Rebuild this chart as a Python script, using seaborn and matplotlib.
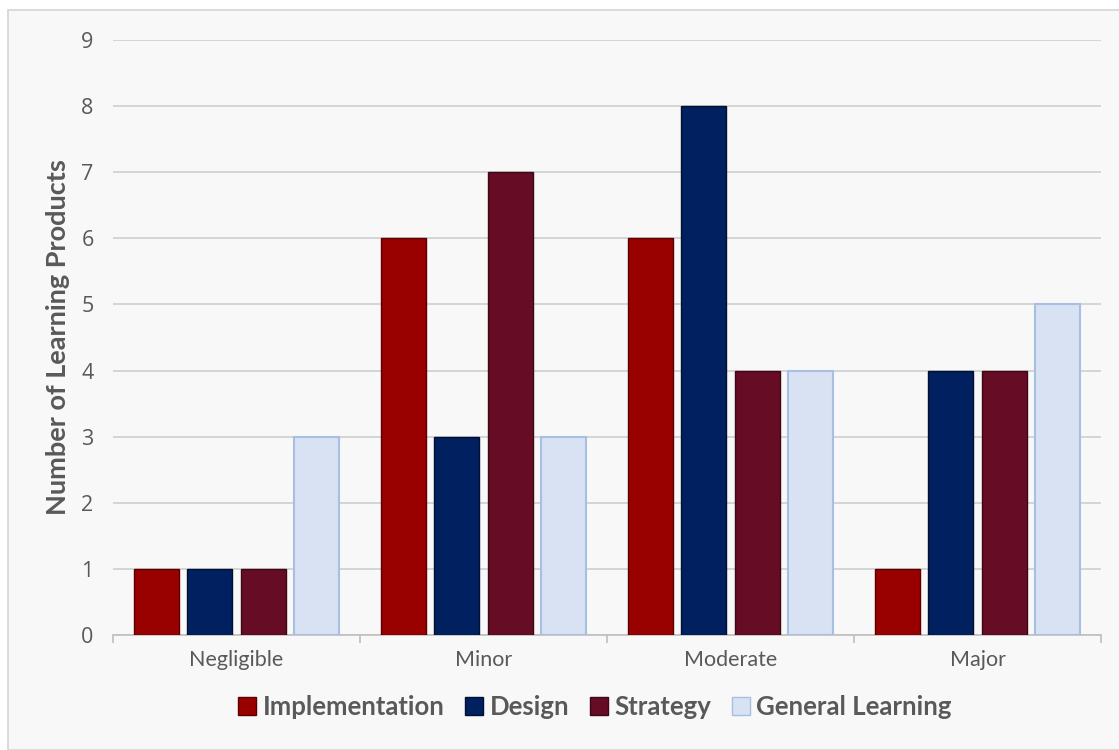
import matplotlib
matplotlib.use("Agg")
import matplotlib.pyplot as plt
from matplotlib.patches import Rectangle
import seaborn as sns
import pandas as pd

categories = ["Negligible", "Minor", "Moderate", "Major"]
series_names = ["Implementation", "Design", "Strategy", "General Learning"]
implementation = [1, 6, 6, 1]
design = [1, 3, 8, 4]
strategy = [1, 7, 4, 4]
general_learning = [3, 3, 4, 5]
y_ticks = list(range(0, 10))

colors = ["#990000", "#002060", "#660c24", "#d9e2f3"]
edges = ["#5a0000", "#001030", "#3d0714", "#a6bfe3"]

rows = []
for name, vals in zip(series_names, [implementation, design, strategy, general_learning]):
    for c, v in zip(categories, vals):
        rows.append({"Effect": c, "Series": name, "Count": v})
df = pd.DataFrame(rows)

sns.set_theme(style="white")
plt.rcParams["font.family"] = ["Lato", "DejaVu Sans"]

fig = plt.figure(figsize=(11.19, 7.5), dpi=100)
fig.patch.set_facecolor("white")
fig.patches.append(Rectangle((8/1119, 0), 1 - 8/1119 + 0.01, (750-10)/750, transform=fig.transFigure,
                             facecolor="#f8f8f8", edgecolor="#d4d4d4", linewidth=1.2, zorder=-10))

ax = fig.add_axes([113/1119, (750-635)/750, (1101-113)/1119, (635-40)/750])
ax.set_facecolor("#f8f8f8")

sns.barplot(data=df, x="Effect", y="Count", hue="Series", order=categories,
            hue_order=series_names, palette=colors, saturation=1, width=0.868, gap=0.16,
            ax=ax, legend=False, zorder=3)

n = len(categories)
for i, p in enumerate(ax.patches[: n * len(series_names)]):
    s = i // n
    p.set_edgecolor(edges[s])
    p.set_linewidth(1.5 if s == 3 else 1.0)

ax.set_ylim(0, 9)
ax.set_xlim(-0.5, n - 0.5)
ax.set_yticks(y_ticks)
ax.set_yticklabels([str(t) for t in y_ticks], fontfamily="Open Sans", fontsize=15.5, color="#595959")
ax.yaxis.grid(True, color="#d2d2d2", linewidth=1.3, zorder=0)
ax.set_axisbelow(True)
ax.tick_params(axis="y", length=0, pad=14)

ax.set_xticks(range(n))
ax.set_xticklabels(categories, fontsize=15.5, color="#595959")
ax.set_xticks([i - 0.5 for i in range(n + 1)], minor=True)
ax.tick_params(axis="x", which="major", length=0, pad=11)
ax.tick_params(axis="x", which="minor", length=6, width=1.2, color="#bfbfbf", direction="out", bottom=True)

for side in ["left", "right", "top"]:
    ax.spines[side].set_visible(False)
ax.spines["bottom"].set_color("#bfbfbf")
ax.spines["bottom"].set_linewidth(1.2)

ax.set_xlabel("")
ax.set_ylabel("Number of Learning Products", fontsize=19.5, fontweight="bold", color="#595959", labelpad=8)

handles = [Rectangle((0, 0), 1, 1, facecolor=c, edgecolor=e, linewidth=1.0) for c, e in zip(colors, edges)]
fig.legend(handles, series_names, loc="center", bbox_to_anchor=(595/1119, (750-707)/750), ncol=4,
           frameon=False, handlelength=0.7, handleheight=0.7, handletextpad=0.25, columnspacing=0.8,
           prop={"family": "Lato", "weight": "bold", "size": 18.5}, labelcolor="#595959")

fig.savefig("out.png", dpi=100, facecolor=fig.get_facecolor())
